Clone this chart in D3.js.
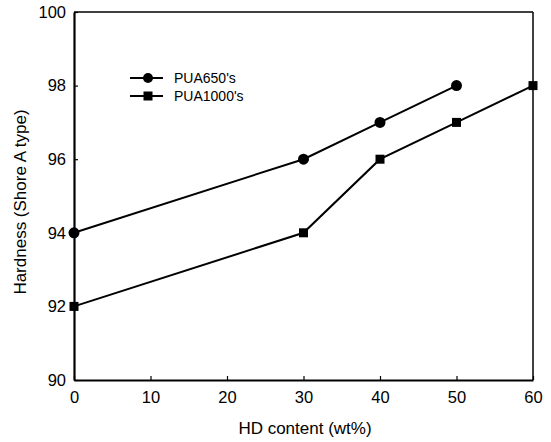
<!DOCTYPE html>
<html>
<head>
<meta charset="utf-8">
<script src="https://cdn.jsdelivr.net/npm/d3@7"></script>
<style>
  body { margin: 0; background: #fff; }
  text { font-family: "Liberation Sans", Arial, sans-serif; fill: #000; }
</style>
</head>
<body>
<div id="chart"></div>
<script>
var hdContent650 = [0, 30, 40, 50];
var hardness650 = [94, 96, 97, 98];
var hdContent1000 = [0, 30, 40, 50, 60];
var hardness1000 = [92, 94, 96, 97, 98];
var xTicks = [0, 10, 20, 30, 40, 50, 60];
var yTicks = [90, 92, 94, 96, 98, 100];
var seriesNames = ["PUA650's", "PUA1000's"];

(function() {
	var width = 551,
		height = 442;
	var left = 74, right = 533, top = 12, bottom = 380;

	var svg = d3.select("#chart")
		.append("svg")
		.attr("width", width)
		.attr("height", height);

	var x = d3.scaleLinear().domain([0, 60]).range([left, right]);
	var y = d3.scaleLinear().domain([90, 100]).range([bottom, top]);

	// frame: top and right thinner
	svg.append("line")
		.attr("x1", left).attr("x2", right).attr("y1", top).attr("y2", top)
		.attr("stroke", "#000").attr("stroke-width", 1.5);
	svg.append("line")
		.attr("x1", right).attr("x2", right).attr("y1", top).attr("y2", bottom)
		.attr("stroke", "#000").attr("stroke-width", 1.5);

	var xAxis = svg.append("g")
		.attr("transform", "translate(0," + bottom + ")")
		.call(d3.axisBottom(x).tickValues(xTicks).tickSizeInner(-4).tickSizeOuter(0).tickPadding(12));
	var yAxis = svg.append("g")
		.attr("transform", "translate(" + left + ",0)")
		.call(d3.axisLeft(y).tickValues(yTicks).tickSizeInner(-4).tickSizeOuter(0).tickPadding(8));

	[xAxis, yAxis].forEach(function(a) {
		a.select(".domain").attr("stroke-width", 2.2);
		a.selectAll(".tick line").attr("stroke-width", 1.2);
		a.selectAll("text")
			.style("font-size", "16.5px")
			.attr("fill", "#000");
	});
	xAxis.selectAll(".tick text").attr("dy", "0.68em");

	svg.append("text")
		.attr("x", 305)
		.attr("y", 434)
		.attr("text-anchor", "middle")
		.style("font-size", "17px")
		.text("HD content (wt%)");

	svg.append("text")
		.attr("transform", "translate(26,202) rotate(-90)")
		.attr("text-anchor", "middle")
		.style("font-size", "17px")
		.text("Hardness (Shore A type)");

	var data650 = hdContent650.map(function(d, i) { return { x: d, y: hardness650[i] }; });
	var data1000 = hdContent1000.map(function(d, i) { return { x: d, y: hardness1000[i] }; });

	var line = d3.line()
		.x(function(d) { return x(d.x); })
		.y(function(d) { return y(d.y); });

	[data650, data1000].forEach(function(data) {
		svg.append("path")
			.datum(data)
			.attr("d", line)
			.attr("fill", "none")
			.attr("stroke", "#000")
			.attr("stroke-width", 2);
	});

	svg.selectAll(".dot")
		.data(data650)
		.enter().append("circle")
		.attr("class", "dot")
		.attr("cx", function(d) { return x(d.x); })
		.attr("cy", function(d) { return y(d.y); })
		.attr("r", 5.5)
		.attr("fill", "#000");

	svg.selectAll(".sq")
		.data(data1000)
		.enter().append("rect")
		.attr("class", "sq")
		.attr("x", function(d) { return x(d.x) - 4.5; })
		.attr("y", function(d) { return y(d.y) - 4.5; })
		.attr("width", 9)
		.attr("height", 9)
		.attr("fill", "#000");

	// legend
	var legend = svg.append("g");
	seriesNames.forEach(function(name, i) {
		var ly = 78 + i * 18;
		legend.append("line")
			.attr("x1", 130).attr("x2", 163).attr("y1", ly).attr("y2", ly)
			.attr("stroke", "#000").attr("stroke-width", 2);
		if (i === 0) {
			legend.append("circle").attr("cx", 148).attr("cy", ly).attr("r", 5).attr("fill", "#000");
		} else {
			legend.append("rect").attr("x", 143.5).attr("y", ly - 4.5).attr("width", 9).attr("height", 9).attr("fill", "#000");
		}
		legend.append("text")
			.attr("x", 174)
			.attr("y", ly + 5)
			.style("font-size", "14px")
			.text(name);
	});
})();
</script>
</body>
</html>
